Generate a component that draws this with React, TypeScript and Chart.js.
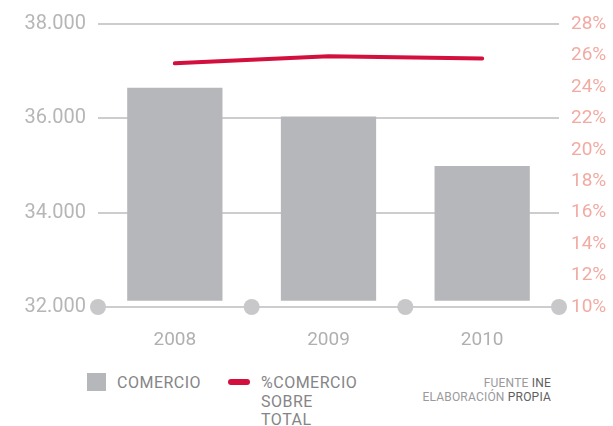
import React, { useEffect, useRef } from "react";
import { Chart, registerables } from "chart.js";

Chart.register(...registerables);

const categories = ["2008", "2009", "2010"];
const comercio = [36650, 36040, 34990];
const pctComercio = [25.5, 25.95, 25.8];
const barBase = 32130;
const leftMin = 32000;
const leftMax = 38000;
const leftStep = 2000;
const rightMin = 10;
const rightMax = 28;
const rightStep = 2;

const FONT = "Roboto, 'DejaVu Sans', sans-serif";

const fmtThousands = (v: number) =>
  String(Math.round(v)).replace(/\B(?=(\d{3})+(?!\d))/g, ".");

const circlesPlugin = {
  id: "baseCircles",
  afterDatasetsDraw(chart: any) {
    const xs = chart.scales.x;
    const ys = chart.scales.y;
    const ctx = chart.ctx;
    const n = chart.data.labels.length;
    const y = ys.getPixelForValue(leftMin);
    ctx.save();
    ctx.fillStyle = "#c8c8ca";
    for (let i = 0; i <= n; i++) {
      const x = xs.left + (i * xs.width) / n;
      ctx.beginPath();
      ctx.arc(x, y, 8, 0, Math.PI * 2);
      ctx.fill();
    }
    ctx.restore();
  },
};

export default function App() {
  const ref = useRef<HTMLCanvasElement | null>(null);

  useEffect(() => {
    if (!ref.current) return;
    const chart = new Chart(ref.current, {
      type: "bar",
      data: {
        labels: categories,
        datasets: [
          {
            type: "line",
            label: "%COMERCIO SOBRE TOTAL",
            data: pctComercio,
            yAxisID: "y1",
            borderColor: "#d20f3d",
            backgroundColor: "#d20f3d",
            borderWidth: 4,
            borderCapStyle: "round",
            pointRadius: 0,
            tension: 0,
            order: 0,
          } as any,
          {
            type: "bar",
            label: "COMERCIO",
            data: comercio,
            yAxisID: "y",
            base: barBase,
            backgroundColor: "#b6b7ba",
            borderWidth: 0,
            categoryPercentage: 1,
            barPercentage: 0.62,
            order: 1,
          } as any,
        ],
      },
      options: {
        responsive: false,
        animation: false,
        layout: { padding: { top: 9, left: 0, right: 0, bottom: 0 } },
        plugins: {
          legend: { display: false },
          tooltip: { enabled: false },
        },
        scales: {
          x: {
            offset: true,
            grid: { display: false, drawTicks: false },
            border: { display: false },
            ticks: {
              color: "#b0b0b2",
              font: { family: FONT, size: 19 },
              padding: 22,
            },
            afterFit(scale: any) {
              scale.height = 50;
            },
          },
          y: {
            position: "left",
            min: leftMin,
            max: leftMax,
            grid: { color: "#cdcdcf", lineWidth: 2, drawTicks: false },
            border: { display: false },
            ticks: {
              stepSize: leftStep,
              color: "#b6b6b8",
              font: { family: FONT, size: 20 },
              padding: 12,
              callback: (v: any) => fmtThousands(Number(v)),
            },
            afterFit(scale: any) {
              scale.width = 98;
            },
          },
          y1: {
            position: "right",
            min: rightMin,
            max: rightMax,
            grid: { display: false, drawTicks: false },
            border: { display: false },
            ticks: {
              stepSize: rightStep,
              color: "#f2aba3",
              font: { family: FONT, size: 19 },
              padding: 12,
              callback: (v: any) => `${v}%`,
            },
            afterFit(scale: any) {
              scale.width = 54;
            },
          },
        },
      } as any,
      plugins: [circlesPlugin],
    });
    return () => chart.destroy();
  }, []);

  const legendText: React.CSSProperties = {
    position: "absolute",
    fontFamily: FONT,
    fontSize: 16,
    color: "#858587",
    lineHeight: "18.5px",
    letterSpacing: "0.5px",
  };

  return (
    <div
      style={{
        position: "absolute",
        left: 0,
        top: 0,
        width: 613,
        height: 426,
        overflow: "hidden",
        background: "#ffffff",
      }}
    >
      <canvas ref={ref} width={613} height={357} style={{ display: "block" }} />
      <div
        style={{
          position: "absolute",
          left: 87,
          top: 373,
          width: 19,
          height: 18,
          background: "#b6b7ba",
        }}
      />
      <div style={{ ...legendText, left: 117, top: 374 }}>COMERCIO</div>
      <div
        style={{
          position: "absolute",
          left: 228,
          top: 379,
          width: 22,
          height: 6,
          borderRadius: 3,
          background: "#d20f3d",
        }}
      />
      <div style={{ ...legendText, left: 261, top: 374, width: 120 }}>
        %COMERCIO
        <br />
        SOBRE
        <br />
        TOTAL
      </div>
      <div
        style={{
          position: "absolute",
          right: 62,
          top: 376,
          textAlign: "right",
          fontFamily: FONT,
          fontSize: 12,
          lineHeight: "14px",
          color: "#9a9a9c",
          letterSpacing: "0.2px",
        }}
      >
        FUENTE <span style={{ color: "#5e5e60" }}>INE</span>
        <br />
        ELABORACIÓN <span style={{ color: "#5e5e60" }}>PROPIA</span>
      </div>
    </div>
  );
}
